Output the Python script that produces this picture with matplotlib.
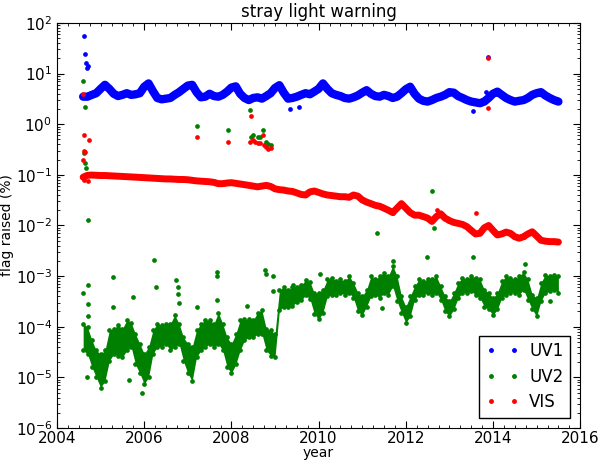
import numpy as np
import matplotlib
matplotlib.use('Agg')
import matplotlib.pyplot as plt
from matplotlib.ticker import MultipleLocator

# time grid of the readings (decimal year, 0.1 yr steps)
t = np.round(np.arange(2004.6, 2015.55, 0.1), 1)

# UV1 band, centre of the scatter (%)
uv1 = [3.5, 3.5, 3.8, 4.1,
       5.0, 6.0, 5.0, 4.0, 3.6, 3.8, 4.1, 3.8, 3.9, 4.1,
       5.5, 6.4, 4.5, 3.3, 3.1, 3.2, 3.3, 3.8, 4.3, 5.0,
       5.8, 6.0, 4.3, 3.4, 3.5, 4.0, 3.6, 3.5, 3.8, 4.4,
       5.3, 5.6, 4.0, 3.3, 3.0, 3.3, 3.4, 3.2, 3.6, 4.1,
       5.2, 5.9, 4.2, 3.2, 3.3, 3.5, 3.8, 4.1, 3.9, 4.4,
       5.0, 6.4, 5.0, 4.1, 3.8, 3.6, 3.3, 3.2, 3.4, 3.7,
       4.2, 4.7, 4.0, 3.6, 3.5, 3.8, 3.6, 3.3, 3.5, 4.1,
       4.9, 5.5, 4.0, 3.2, 2.9, 2.8, 3.0, 3.3, 3.5, 3.8,
       4.3, 4.2, 3.6, 3.3, 3.0, 2.8, 2.7, 2.6, 2.8, 3.3,
       4.0, 4.4, 3.8, 3.3, 3.0, 2.8, 2.9, 3.0, 3.3, 3.8,
       4.1, 4.3, 3.7, 3.3, 3.0, 2.8]

# VIS band, centre of the scatter (%)
vis = [0.090, 0.098, 0.099, 0.098,
       0.097, 0.097, 0.096, 0.095, 0.094, 0.093, 0.092, 0.091, 0.090, 0.089,
       0.088, 0.087, 0.086, 0.085, 0.084, 0.083, 0.083, 0.082, 0.081, 0.081,
       0.080, 0.078, 0.076, 0.075, 0.074, 0.073, 0.071, 0.067, 0.067, 0.069,
       0.070, 0.068, 0.066, 0.064, 0.062, 0.060, 0.058, 0.060, 0.062, 0.059,
       0.053, 0.051, 0.050, 0.048, 0.047, 0.044, 0.041, 0.040, 0.046, 0.048,
       0.045, 0.042, 0.040, 0.039, 0.038, 0.037, 0.037, 0.036, 0.040, 0.038,
       0.032, 0.029, 0.027, 0.025, 0.024, 0.022, 0.020, 0.018, 0.022, 0.027,
       0.022, 0.018, 0.016, 0.016, 0.015, 0.014, 0.012, 0.015, 0.017, 0.014,
       0.0125, 0.0115, 0.011, 0.0105, 0.0095, 0.0080, 0.0068, 0.0070, 0.0090, 0.0100,
       0.0080, 0.0065, 0.0068, 0.0074, 0.0070, 0.0060, 0.0056, 0.0060, 0.0068, 0.0075,
       0.0062, 0.0051, 0.0049, 0.0048, 0.0048, 0.0047]

# UV2 scatter, upper and lower edge of the cloud (%)
uv2_hi = [1.15e-4, 9.8e-5, 5.4e-5, 3.4e-5,
          2.9e-5, 3.4e-5, 8.5e-5, 9.1e-5, 1.07e-4, 9.1e-5, 1.35e-4, 1.2e-4, 7.2e-5, 4.6e-5,
          2.9e-5, 4.0e-5, 8.5e-5, 1.15e-4, 1.07e-4, 1.15e-4, 1.15e-4, 1.7e-4, 1.15e-4, 6.2e-5,
          4.6e-5, 4.0e-5, 8.5e-5, 1.15e-4, 1.35e-4, 1.35e-4, 1.15e-4, 1.9e-4, 1.15e-4, 6.2e-5,
          4.6e-5, 7.2e-5, 1.35e-4, 1.4e-4, 1.4e-4, 1.35e-4, 1.9e-4, 2.1e-4, 9.1e-5, 8.5e-5,
          7.2e-5, 5.2e-4, 6.2e-4, 5.2e-4, 6.2e-4, 6.2e-4, 6.6e-4, 8.3e-4, 7.8e-4, 4.6e-4,
          4.7e-4, 5.4e-4, 8.6e-4, 9.3e-4, 7.9e-4, 8.6e-4, 7.9e-4, 1.0e-3, 7.4e-4, 4.7e-4,
          4.0e-4, 5.4e-4, 1.0e-3, 8.6e-4, 1.0e-3, 1.17e-3, 1.0e-3, 1.6e-3, 1.0e-3, 4.0e-4,
          2.5e-4, 4.0e-4, 6.3e-4, 8.6e-4, 7.9e-4, 8.6e-4, 8.6e-4, 1.0e-3, 6.3e-4, 4.0e-4,
          3.2e-4, 4.7e-4, 7.4e-4, 9.3e-4, 8.6e-4, 1.0e-3, 9.3e-4, 8.6e-4, 5.4e-4, 4.7e-4,
          3.7e-4, 4.7e-4, 7.9e-4, 1.0e-3, 9.3e-4, 8.6e-4, 1.0e-3, 1.2e-3, 8.6e-4, 4.3e-4,
          3.7e-4, 7.4e-4, 1.07e-3, 1.0e-3, 1.07e-3, 1.0e-3]
uv2_lo = [3.4e-5, 2.9e-5, 1.6e-5, 1.0e-5,
          6.3e-6, 8.5e-6, 2.1e-5, 2.9e-5, 2.7e-5, 2.5e-5, 3.4e-5, 4.0e-5, 1.8e-5, 1.2e-5,
          7.4e-6, 1.0e-5, 2.9e-5, 4.0e-5, 4.0e-5, 4.6e-5, 3.4e-5, 4.0e-5, 4.6e-5, 2.1e-5,
          1.2e-5, 8.5e-6, 2.5e-5, 3.4e-5, 4.0e-5, 4.6e-5, 4.0e-5, 4.6e-5, 3.4e-5, 1.6e-5,
          1.2e-5, 1.8e-5, 3.4e-5, 5.4e-5, 6.2e-5, 6.2e-5, 7.2e-5, 7.2e-5, 3.4e-5, 2.7e-5,
          2.5e-5, 2.1e-4, 2.5e-4, 2.5e-4, 2.6e-4, 3.1e-4, 3.3e-4, 4.2e-4, 3.6e-4, 1.8e-4,
          1.4e-4, 1.9e-4, 4.0e-4, 4.3e-4, 4.3e-4, 4.7e-4, 4.3e-4, 4.7e-4, 3.7e-4, 2.0e-4,
          1.7e-4, 2.5e-4, 4.0e-4, 4.3e-4, 3.7e-4, 4.7e-4, 4.3e-4, 6.3e-4, 3.2e-4, 1.9e-4,
          1.2e-4, 1.6e-4, 3.4e-4, 4.3e-4, 4.3e-4, 4.7e-4, 4.3e-4, 4.7e-4, 3.4e-4, 2.0e-4,
          1.6e-4, 2.2e-4, 3.7e-4, 4.7e-4, 4.7e-4, 5.0e-4, 4.3e-4, 3.7e-4, 2.5e-4, 2.2e-4,
          1.7e-4, 2.2e-4, 3.7e-4, 4.3e-4, 4.7e-4, 4.7e-4, 4.3e-4, 5.4e-4, 3.4e-4, 2.2e-4,
          1.6e-4, 3.2e-4, 4.7e-4, 5.0e-4, 5.4e-4, 4.7e-4]

# isolated points away from the bands
uv1_out_t = [2004.62, 2004.64, 2004.66, 2004.68, 2004.70, 2009.35, 2009.55,
             2013.55, 2013.85, 2013.88]
uv1_out_v = [55, 24, 16, 13, 14, 2.0, 2.2, 1.8, 4.4, 21]

uv2_out_t = [2004.60, 2004.65, 2004.62, 2004.64, 2004.66, 2004.72,
             2004.60, 2004.72, 2004.72, 2004.72, 2004.69,
             2005.29, 2005.29, 2005.75, 2005.66, 2006.23, 2006.27, 2005.96,
             2006.72, 2006.78, 2006.78, 2006.80, 2007.20, 2007.20,
             2007.66, 2007.68, 2007.66, 2007.93, 2008.35,
             2008.43, 2008.45, 2008.50, 2008.60, 2008.65, 2008.73, 2008.80,
             2008.85, 2008.90, 2008.77, 2008.79, 2008.96, 2008.96, 2009.42,
             2010.03, 2011.35, 2011.45, 2011.71, 2012.48, 2012.61, 2012.65,
             2013.55, 2014.73, 2015.31]
uv2_out_v = [7.1, 2.2, 0.27, 0.17, 0.134, 0.013,
             4.7e-4, 6.6e-4, 2.8e-4, 1.6e-4, 1.0e-5,
             9.8e-4, 2.4e-4, 3.8e-4, 9e-6, 2.1e-3, 6e-4, 5e-6,
             8.5e-4, 6e-4, 4.5e-4, 3e-4, 0.92, 2.5e-4,
             1.2e-3, 1.0e-3, 3.3e-4, 0.77, 2.6e-4,
             1.9, 0.55, 0.60, 0.57, 0.55, 0.77, 0.45,
             0.40, 0.38, 1.3e-3, 1.1e-3, 1.0e-3, 5e-4, 6.6e-4,
             1.08e-3, 0.0072, 2.3e-4, 2.0e-3, 2.4e-3, 0.048, 0.009,
             2.4e-3, 1.7e-3, 3.2e-4]

vis_out_t = [2004.60, 2004.62, 2004.74, 2004.63, 2004.60, 2004.65, 2004.62, 2004.70,
             2007.20, 2007.93, 2008.45, 2008.43, 2008.50, 2008.55, 2008.60,
             2008.65, 2008.73, 2008.75, 2008.80, 2008.85, 2008.90,
             2012.71, 2013.61, 2013.88, 2013.88]
vis_out_v = [3.9, 0.61, 0.49, 0.30, 0.20, 0.28, 0.08, 0.075,
             0.57, 0.45, 1.45, 0.45, 0.48, 0.45, 0.43,
             0.42, 0.60, 0.38, 0.35, 0.33, 0.34,
             0.020, 0.018, 20.7, 2.1]

blue = (0, 0, 1)
green = (0, 0.5, 0)
red = (1, 0, 0)
ms = 3.4

fig = plt.figure(figsize=(6, 4.65), dpi=100)
ax = fig.add_axes([0.095, 0.0796, 0.872, 0.871])

# UV1
ax.plot(t, uv1, '-', color=blue, lw=6, solid_capstyle='round')
ax.plot(t, uv1, 'o', color=blue, ms=ms, mec='none')
ax.plot(uv1_out_t, uv1_out_v, 'o', color=blue, ms=ms, mec='none')

# UV2
ax.fill_between(t, uv2_lo, uv2_hi, color=green, lw=0)
ax.plot(t, uv2_hi, 'o', color=green, ms=ms, mec='none')
ax.plot(t, uv2_lo, 'o', color=green, ms=ms, mec='none')
ax.plot(uv2_out_t, uv2_out_v, 'o', color=green, ms=ms, mec='none')

# VIS
ax.plot(t, vis, '-', color=red, lw=5, solid_capstyle='round')
ax.plot(t, vis, 'o', color=red, ms=ms, mec='none')
ax.plot(vis_out_t, vis_out_v, 'o', color=red, ms=ms, mec='none')

# legend entries
ax.plot([], [], '.', color=blue, ms=5, label='UV1')
ax.plot([], [], '.', color=green, ms=5, label='UV2')
ax.plot([], [], '.', color=red, ms=5, label='VIS')

ax.set_yscale('log')
ax.set_xlim(2004, 2016)
ax.set_ylim(1e-6, 1e2)
ax.xaxis.set_major_locator(MultipleLocator(2))
ax.xaxis.set_minor_locator(MultipleLocator(0.25))
ax.xaxis.set_major_formatter(plt.FormatStrFormatter('%d'))
ax.tick_params(which='both', direction='in', top=True, right=True, labelsize=11)
ax.tick_params(which='major', length=5)
ax.tick_params(which='minor', length=2.5)
ax.tick_params(axis='x', pad=2)

ax.set_title('stray light warning', fontsize=12, pad=4)
ax.set_xlabel('year', fontsize=10, labelpad=0)
ax.set_ylabel('flag raised (%)', fontsize=10, labelpad=1)

leg = ax.legend(loc='lower right', numpoints=2, fancybox=False, framealpha=1,
                edgecolor='black', fontsize=12, handlelength=2.0,
                borderaxespad=0.6, labelspacing=0.45, handletextpad=0.6)
leg.get_frame().set_linewidth(1.0)

fig.savefig('out.png', dpi=100)
